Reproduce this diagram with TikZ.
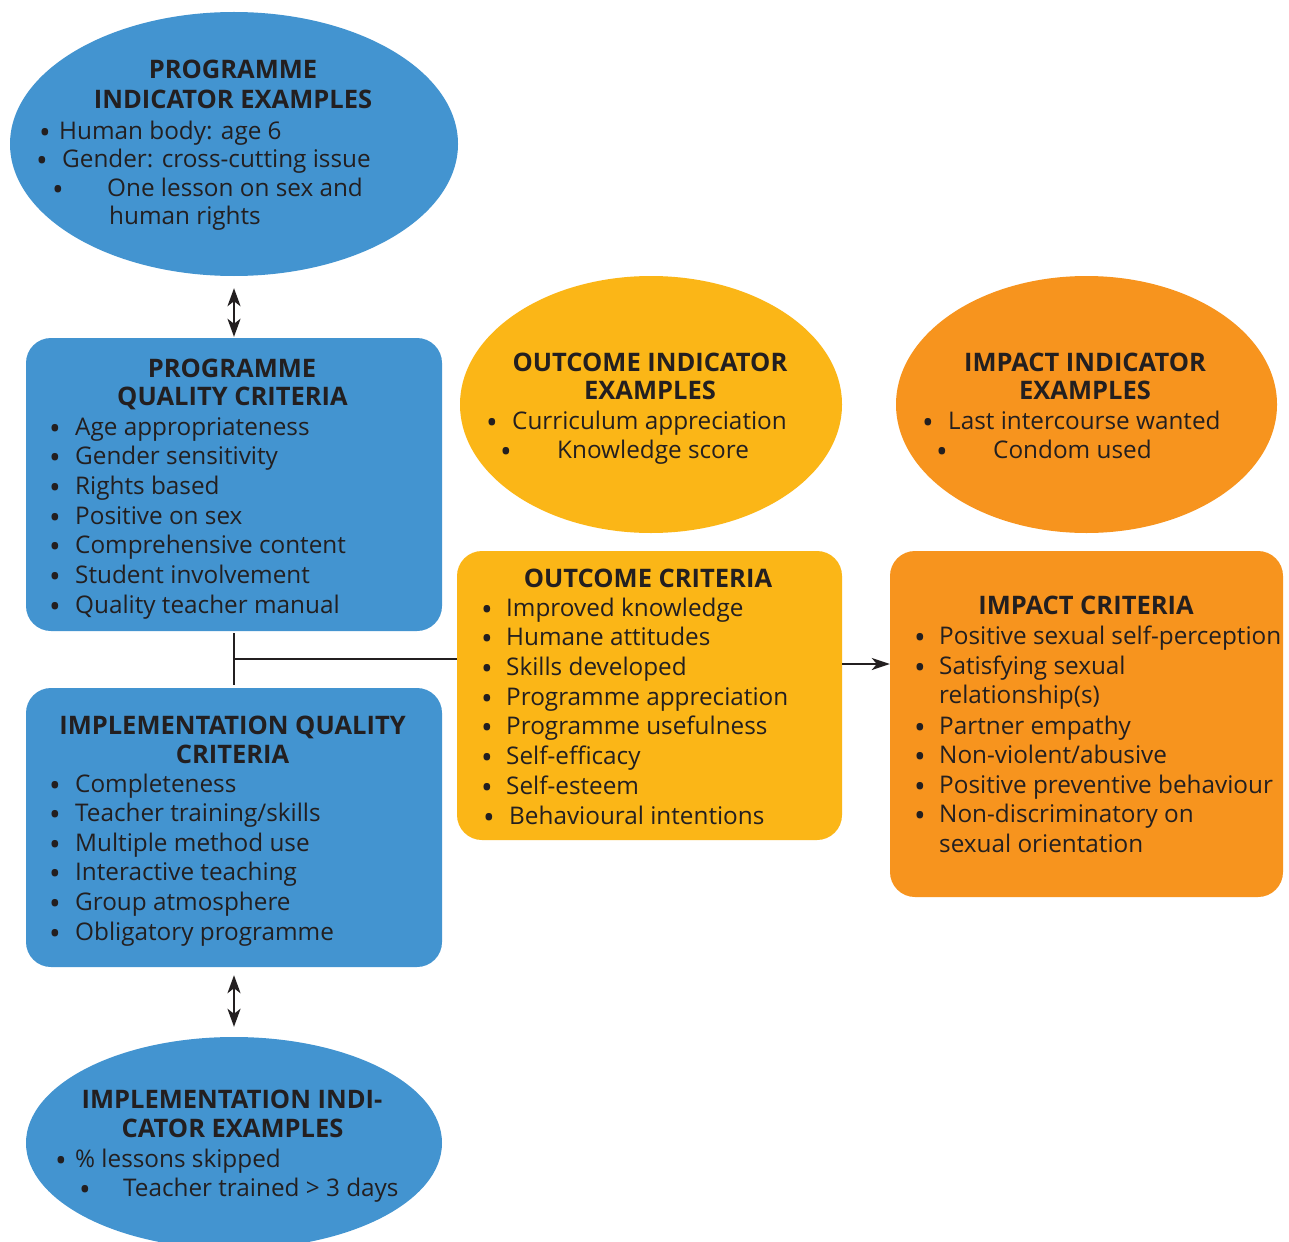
\documentclass[tikz,border=0pt]{standalone}
\usepackage{fontspec}
\setmainfont{Open Sans}
\usetikzlibrary{arrows.meta,shapes.geometric}
\definecolor{cblue}{HTML}{4394D0}
\definecolor{cyellow}{HTML}{FBB617}
\definecolor{corange}{HTML}{F7941E}
\definecolor{ink}{HTML}{231F20}
\newcommand\bul[5]{%
  \node[bdot] (#1b) at ({#2},{#4}) {•};
  \node[txt] (#1) at ({#3},{#4}) {#5};}
\begin{document}
\begin{tikzpicture}[x=1pt,y=-1pt,
  txt/.style={inner sep=0pt, anchor=base west, font=\fontsize{24.3}{28}\selectfont, text=ink},
  bdot/.style={inner sep=0pt, anchor=base, yshift=-4pt, font=\fontsize{31}{28}\selectfont, text=ink},
  ttl/.style={inner sep=0pt, anchor=base, font=\fontsize{25.5}{28}\selectfont\bfseries, text=ink},
  rbox/.style={rectangle, rounded corners=25pt, inner sep=0pt},
  ell/.style={ellipse, inner sep=0pt},
  link/.style={draw=ink, line width=2.4pt},
  dbl/.style={link, {Stealth[length=18pt,width=13pt,inset=5pt]}-{Stealth[length=18pt,width=13pt,inset=5pt]}},
  one/.style={link, -{Stealth[length=18pt,width=12pt,inset=5pt]}},
]
\clip (0,0) rectangle (1289,1241);
\fill[white] (0,0) rectangle (1289,1241);

% shapes
\node[ell, fill=cblue, minimum width=448pt, minimum height=264pt] (pie) at (234,144) {};
\node[rbox, fill=cblue, minimum width=416pt, minimum height=293pt] (pqc) at (234,484.5) {};
\node[rbox, fill=cblue, minimum width=416pt, minimum height=279pt] (iqc) at (234,827.5) {};
\node[ell, fill=cblue, minimum width=416pt, minimum height=212pt] (iie2) at (234,1143) {};
\node[ell, fill=cyellow, minimum width=382pt, minimum height=257pt] (oie) at (651,404.5) {};
\node[rbox, fill=cyellow, minimum width=385pt, minimum height=289pt] (oc) at (649.5,695.5) {};
\node[ell, fill=corange, minimum width=381pt, minimum height=257pt] (iie) at (1086.5,404.5) {};
\node[rbox, fill=corange, minimum width=393pt, minimum height=346pt] (ic) at (1086.5,724) {};

% connectors
\draw[dbl, shorten <=12pt, shorten >=1pt] (pie.south) -- (pqc.north);
\draw[dbl, shorten <=8pt, shorten >=10pt] (iqc.south) -- (iie2.north);
\coordinate (jn) at (233,659);
\draw[link, shorten <=2pt, shorten >=3pt] (pqc.south) -- (iqc.north);
\draw[link] (jn) -- (jn -| oc.west);
\coordinate (ar) at (842,664);
\draw[one] (ar) -- (ar -| ic.west);

% programme indicator examples
\node[ttl] (pieT1) at (233,79) {PROGRAMME};
\node[ttl] (pieT2) at (233,109) {INDICATOR EXAMPLES};
\bul{pie1}{45}{59}{140}{Human body: age 6}
\bul{pie2}{42}{62}{168}{Gender: cross-cutting issue}
\bul{pie3}{58}{107}{197}{One lesson on sex and}
\node[txt] (pie4) at (109,225) {human rights};

% programme quality criteria
\node[ttl] (pqcT1) at (232,377) {PROGRAMME};
\node[ttl] (pqcT2) at (232.5,405) {QUALITY CRITERIA};
\foreach \t [count=\i] in {Age appropriateness, Gender sensitivity, Rights based, Positive on sex, Comprehensive content, Student involvement, Quality teacher manual}
  {\bul{pqc\i}{55}{75}{435+29.7*(\i-1)}{\t}}

% implementation quality criteria
\node[ttl] (iqcT1) at (232.5,734) {IMPLEMENTATION QUALITY};
\node[ttl] (iqcT2) at (232.5,763) {CRITERIA};
\foreach \t [count=\i] in {Completeness, Teacher training/skills, Multiple method use, Interactive teaching, Group atmosphere, Obligatory programme}
  {\bul{iqc\i}{55}{75}{792+29.6*(\i-1)}{\t}}

% implementation indicator examples
\node[ttl] (iieT1) at (232,1108) {IMPLEMENTATION INDI-};
\node[ttl] (iieT2) at (232.5,1137) {CATOR EXAMPLES};
\bul{iie1}{61}{75}{1167}{\% lessons skipped}
\bul{iie2t}{85}{123}{1196}{Teacher trained > 3 days}

% outcome indicator examples
\node[ttl] (oieT1) at (650,371) {OUTCOME INDICATOR};
\node[ttl] (oieT2) at (650,399) {EXAMPLES};
\bul{oie1}{492}{512}{429}{Curriculum appreciation}
\bul{oie2}{506}{557}{458}{Knowledge score}

% outcome criteria
\node[ttl] (ocT) at (648,587) {OUTCOME CRITERIA};
\foreach \t [count=\i] in {Improved knowledge, Humane attitudes, Skills developed, Programme appreciation, Programme usefulness, Self-efficacy, Self-esteem}
  {\bul{oc\i}{487}{506}{616+29.7*(\i-1)}{\t}}
\bul{oc8}{489}{509}{824}{Behavioural intentions}

% impact indicator examples
\node[ttl] (iieTa) at (1085,371) {IMPACT INDICATOR};
\node[ttl] (iieTb) at (1085,399) {EXAMPLES};
\bul{ii1}{928}{948}{429}{Last intercourse wanted}
\bul{ii2}{942}{993}{458}{Condom used}

% impact criteria
\node[ttl] (icT) at (1086,614) {IMPACT CRITERIA};
\bul{ic1}{920}{939}{644}{Positive sexual self-perception}
\bul{ic2}{920}{939}{674}{Satisfying sexual}
\node[txt] (ic2c) at (939,703) {relationship(s)};
\bul{ic3}{920}{939}{734}{Partner empathy}
\bul{ic4}{920}{939}{763}{Non-violent/abusive}
\bul{ic5}{920}{939}{793}{Positive preventive behaviour}
\bul{ic6}{920}{939}{822}{Non-discriminatory on}
\node[txt] (ic6c) at (939,852) {sexual orientation};
\end{tikzpicture}
\end{document}
